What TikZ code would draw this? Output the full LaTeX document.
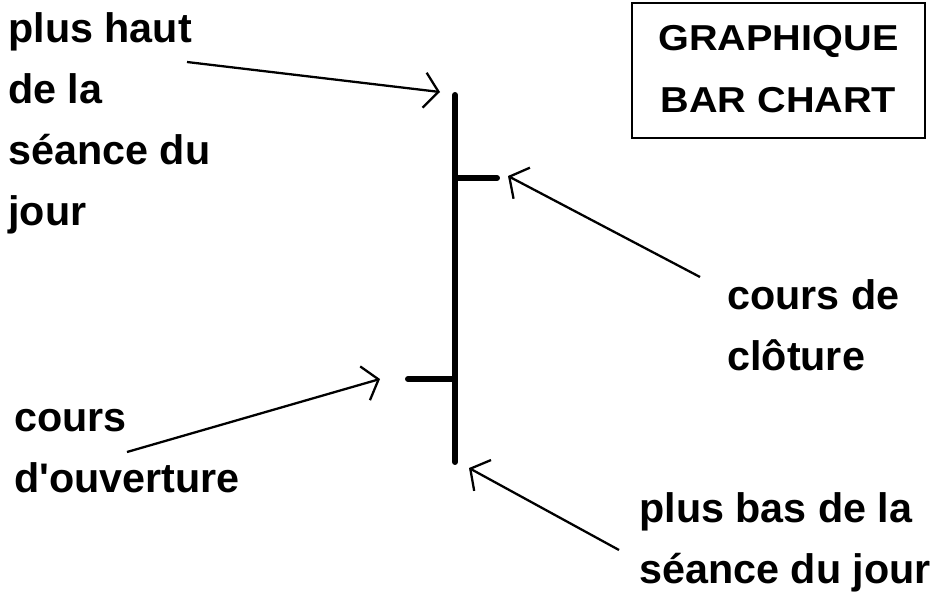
\documentclass[tikz,border=0pt]{standalone}
\usepackage{fontspec}
\setmainfont{Liberation Sans}
\newfontfamily\titlefont[FakeStretch=1.1]{Liberation Sans}
\usetikzlibrary{arrows.meta, positioning}
\tikzset{
    label text/.style={anchor=base west, align=left, inner sep=0pt,
        font=\fontsize{23.5}{34.6}\selectfont\bfseries},
    pointer/.style={-{Straight Barb[length=8pt,width=20pt]}, line width=1.3pt},
    bar line/.style={line width=3.4pt, line cap=round},
    title box/.style={draw, line width=1.6pt, inner sep=0pt, align=center,
        minimum width=5.86cm, minimum height=2.7cm,
        font=\titlefont\fontsize{20.5}{33.5}\selectfont\bfseries}
}

\begin{document}
\begin{tikzpicture}[x=0.02cm, y=-0.02cm]
    \useasboundingbox (0,0) rectangle (933,599);

    % The bar itself
    \coordinate (high) at (455,95);
    \coordinate (low) at (455,462);
    \coordinate (open) at (455,379);
    \coordinate (openEnd) at (408,379);
    \coordinate (close) at (455,178);
    \coordinate (closeEnd) at (497,178);
    \draw[bar line] (high) -- (low);
    \draw[bar line] (openEnd) -- (open);
    \draw[bar line] (close) -- (closeEnd);

    % Title box
    \node[title box] (title) at (778.5,70.5) {\raisebox{4pt}{GRAPHIQUE}\\\raisebox{2pt}{BAR CHART}};

    % Labels (anchored on the baseline of their last line)
    \node[label text] (highLabel) at (8,225) {plus haut\\de la\\séance du\\jour};
    \node[label text] (closeLabel) at (727,370) {cours de\\clôture};
    \node[label text] (openLabel) at (14,492) {cours\\d\textquotesingle ouverture};
    \node[label text] (lowLabel) at (639,583) {plus bas de la\\séance du jour};

    % Arrows from the labels to the bar
    \coordinate (highTail) at (187,62);
    \coordinate (highTip) at (440,92);
    \coordinate (closeTail) at (700,277);
    \coordinate (closeTip) at (508,176);
    \coordinate (openTail) at (127,452);
    \coordinate (openTip) at (380,379);
    \coordinate (lowTail) at (619,550);
    \coordinate (lowTip) at (469,468);
    \draw[pointer] (highTail) -- (highTip);
    \draw[pointer] (closeTail) -- (closeTip);
    \draw[pointer] (openTail) -- (openTip);
    \draw[pointer] (lowTail) -- (lowTip);
\end{tikzpicture}
\end{document}
